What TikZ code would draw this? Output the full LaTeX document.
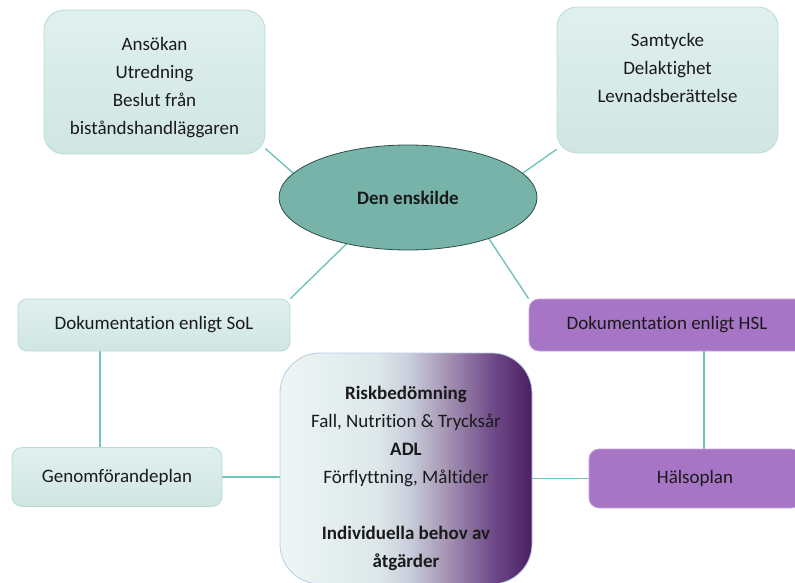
\documentclass[tikz,border=0pt]{standalone}
\usepackage{fontspec}
\setmainfont{Carlito}[Ligatures={NoCommon}]
\usetikzlibrary{shapes.geometric}
\definecolor{tealtop}{HTML}{E0F0EE}
\definecolor{tealbot}{HTML}{D0E6E3}
\definecolor{tealborder}{HTML}{B8DBD6}
\definecolor{purpfill}{HTML}{A675C5}
\definecolor{purpborder}{HTML}{C6A2DA}
\definecolor{ellfill}{HTML}{77B3A9}
\definecolor{ellborder}{HTML}{2E4E4A}
\definecolor{linkc}{HTML}{70C4BA}
\definecolor{txtc}{HTML}{1A1A1A}
\definecolor{cborder}{HTML}{B9CCE6}
\definecolor{cshA}{HTML}{EDF6F4}
\definecolor{cshB}{HTML}{DEE8EA}
\definecolor{cshC}{HTML}{CCD2DD}
\definecolor{cshD}{HTML}{A898B6}
\definecolor{cshE}{HTML}{6D4886}
\definecolor{cshF}{HTML}{4B1F62}
\pgfdeclarehorizontalshading{centershade}{100bp}{color(0bp)=(cshA); color(25bp)=(cshA); color(44bp)=(cshB); color(50bp)=(cshC); color(57.5bp)=(cshD); color(67.5bp)=(cshE); color(75bp)=(cshF); color(100bp)=(cshF)}
\pgfdeclarelayer{bg}
\pgfsetlayers{bg,main}
\begin{document}
\begin{tikzpicture}[x=1pt,y=-1pt,
  txt/.style={font=\fontsize{19}{28}\selectfont, text=txtc, align=center},
  tbox/.style={txt, draw=tealborder, line width=0.8pt, top color=tealtop, bottom color=tealbot, inner sep=0pt},
  pbox/.style={txt, draw=purpborder, line width=0.8pt, fill=purpfill, inner sep=0pt},
  link/.style={draw=linkc, line width=1.4pt}]
\useasboundingbox (0,0) rectangle (795,582);
\clip (0,0) rectangle (795,582);
% top boxes
\node[tbox, rounded corners=20pt, minimum width=221pt, minimum height=144pt] (tl) at (154.5,82) {};
\node[txt] (tltext) at (154.5,88) {Ansökan\\Utredning\\Beslut från\\biståndshandläggaren};
\node[tbox, rounded corners=20pt, minimum width=221pt, minimum height=146pt] (tr) at (667.5,80) {};
\node[txt] (trtext) at (667.5,68) {Samtycke\\Delaktighet\\Levnadsberättelse};
% centre ellipse
\node[ellipse, draw=ellborder, line width=0.8pt, fill=ellfill, minimum width=258pt, minimum height=105pt, inner sep=0pt, txt] (ell) at (408,197.5) {\textbf{Den enskilde}};
% documentation boxes
\node[tbox, rounded corners=9pt, minimum width=272pt, minimum height=52pt] (sol) at (154,325) {Dokumentation enligt SoL};
\node[pbox, rounded corners=10pt, minimum width=276pt, minimum height=52pt] (hsl) at (667,325) {Dokumentation enligt HSL};
% plan boxes
\node[tbox, rounded corners=10pt, minimum width=210pt, minimum height=59pt] (genom) at (117,477) {Genomförandeplan};
\node[pbox, rounded corners=10pt, minimum width=212pt, minimum height=59pt] (halso) at (695,478.5) {Hälsoplan};
% centre box
\node[draw=cborder, line width=0.8pt, shading=centershade, rounded corners=40pt, minimum width=252pt, minimum height=231pt, inner sep=0pt] (cbox) at (406,468.5) {};
\node[txt] (ctext) at (406,478) {\textbf{Riskbedömning}\\Fall, Nutrition \& Trycksår\\\textbf{ADL}\\Förflyttning, Måltider\\[28pt]\textbf{Individuella behov av}\\\textbf{åtgärder}};
% connectors
\begin{pgfonlayer}{bg}
\draw[link] (tl.-31) -- (ell.168);
\draw[link] (tr.212) -- (ell.12);
\draw[link] (ell.217) -- (sol.north east);
\draw[link] (ell.-27) -- (hsl.north west);
\draw[link] ([xshift=-54pt]sol.south) -- ([xshift=-17pt]genom.north);
\draw[link] ([xshift=37pt]hsl.south) -- ([xshift=9pt]halso.north);
\draw[link] (genom.east) -- (genom.east -| cbox.west);
\draw[link] (halso.west) -- (halso.west -| cbox.east);
\end{pgfonlayer}
\end{tikzpicture}
\end{document}
